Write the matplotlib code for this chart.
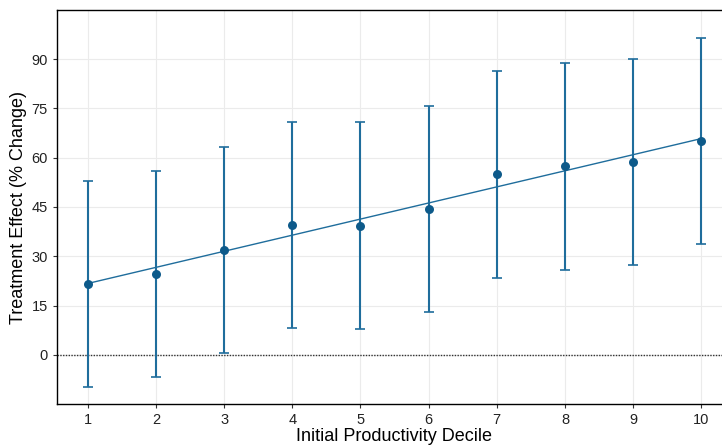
import matplotlib.pyplot as plt
import numpy as np

deciles = [1, 2, 3, 4, 5, 6, 7, 8, 9, 10]
effect = [21.7, 24.6, 31.9, 39.5, 39.3, 44.5, 54.9, 57.4, 58.7, 65.2]
ci_low = [-9.9, -6.7, 0.5, 8.2, 7.8, 13.0, 23.4, 25.9, 27.2, 33.6]
ci_high = [52.9, 55.9, 63.4, 71.0, 70.8, 75.7, 86.3, 88.9, 90.1, 96.5]
y_ticks = [0, 15, 30, 45, 60, 75, 90]

plt.rcParams.update({
    "font.family": ["Liberation Sans", "DejaVu Sans"],
    "font.size": 10,
})

BAR = "#1f6d9c"
DOT = "#0d5a8a"

x = np.array(deciles)
y = np.array(effect)
err = np.vstack([y - np.array(ci_low), np.array(ci_high) - y])

fig = plt.figure(figsize=(7.22, 4.48), dpi=100)
ax = fig.add_axes([57 / 722, 44 / 448, 675 / 722, 394 / 448])

ax.axhline(0, color="#333333", linestyle=(0, (1, 1)), linewidth=1.0, zorder=1)

slope, icpt = np.polyfit(x, y, 1)
ax.plot(x, icpt + slope * x, color=BAR, linewidth=1.0, zorder=2)

ax.errorbar(x, y, yerr=err, fmt="none", ecolor=BAR, elinewidth=1.5,
            capsize=3.8, capthick=1.2, zorder=3)
ax.scatter(x, y, s=42, color=DOT, zorder=4, linewidths=0)

ax.set_xlim(0.55, 10.45)
ax.set_ylim(-15, 105)
ax.set_xticks(deciles)
ax.set_yticks(y_ticks)
ax.grid(True, color="#ebebeb", linewidth=0.8)
ax.set_axisbelow(True)
ax.tick_params(length=3, color="#333333", labelsize=10.5, labelcolor="#222222")
for sp in ax.spines.values():
    sp.set_linewidth(1.0)
    sp.set_color("black")
ax.spines["right"].set_visible(False)

ax.set_xlabel("Initial Productivity Decile", fontsize=13, labelpad=1)
ax.set_ylabel("Treatment Effect (% Change)", fontsize=13, labelpad=3)

fig.savefig("out.png", dpi=100)
